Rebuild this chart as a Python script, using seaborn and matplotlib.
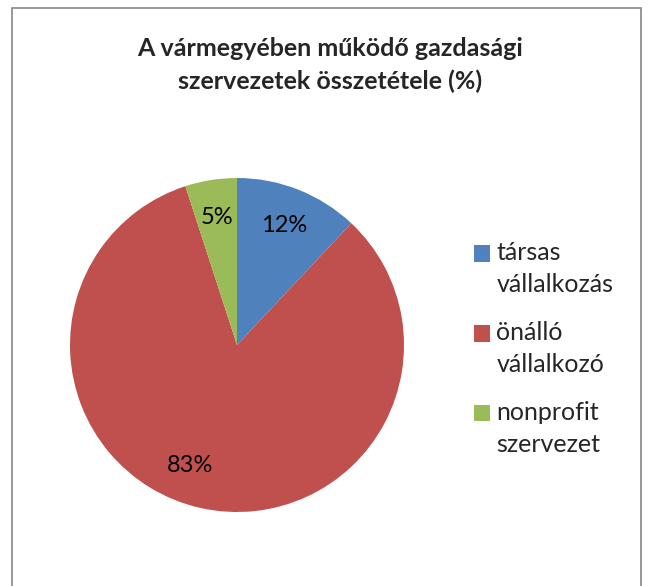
import matplotlib
matplotlib.use("Agg")
import matplotlib.pyplot as plt
from matplotlib.patches import Rectangle
from matplotlib.legend_handler import HandlerPatch
import seaborn as sns

# data
categories = ["társas\nvállalkozás", "önálló\nvállalkozó", "nonprofit\nszervezet"]
shares = [12, 83, 5]
title = "A vármegyében működő gazdasági\nszervezetek összetétele (%)"

colors = ["#4F81BD", "#C0504D", "#9BBB59"]

sns.set_theme(style="white")
plt.rcParams["font.family"] = ["Lato", "DejaVu Sans"]

W, H = 649, 586
fig = plt.figure(figsize=(W / 100, H / 100), dpi=100)
fig.patch.set_facecolor("white")

# outer chart border (Excel style), bottom edge runs off the picture
fig.patches.append(Rectangle((12 / W, -0.05), (641 - 12) / W, 1.05 - 8 / H,
                             transform=fig.transFigure, fill=False,
                             edgecolor="#868686", linewidth=1.2))

fig.suptitle(title, x=330 / W, y=1 - 37 / H, va="top", fontsize=18,
             fontweight="bold", linespacing=1.47)

# pie axes: centre (237, 345) px, radius ~167 px
R = 167
ax = fig.add_axes([(237 - R) / W, (H - 345 - R) / H, 2 * R / W, 2 * R / H])
wedges, texts, autotexts = ax.pie(
    shares, colors=colors, startangle=90, counterclock=False,
    autopct=lambda p: f"{p:.0f}%", pctdistance=0.77,
    wedgeprops=dict(linewidth=0), textprops=dict(fontsize=17, color="black"))
ax.set_xlim(-1, 1)
ax.set_ylim(-1, 1)
ax.axis("off")
# Excel's best-fit spot for the big slice label
autotexts[1].set_position((-0.28, -0.72))


# legend key sits next to the first line of a two-line label
def top_square(legend, orig_handle, xdescent, ydescent, width, height, fontsize):
    return Rectangle((-xdescent, -ydescent + 11.5), width, height)


fig.legend(wedges, categories, loc="upper left",
           bbox_to_anchor=(474 / W, 1 - 241 / H), frameon=False,
           fontsize=18, handlelength=0.64, handleheight=0.64,
           handletextpad=0.25, labelspacing=0.97, borderpad=0, borderaxespad=0,
           handler_map={w: HandlerPatch(patch_func=top_square) for w in wedges})
for t in fig.legends[0].get_texts():
    t.set_linespacing(1.5)

fig.savefig("out.png", dpi=100, facecolor="white")
